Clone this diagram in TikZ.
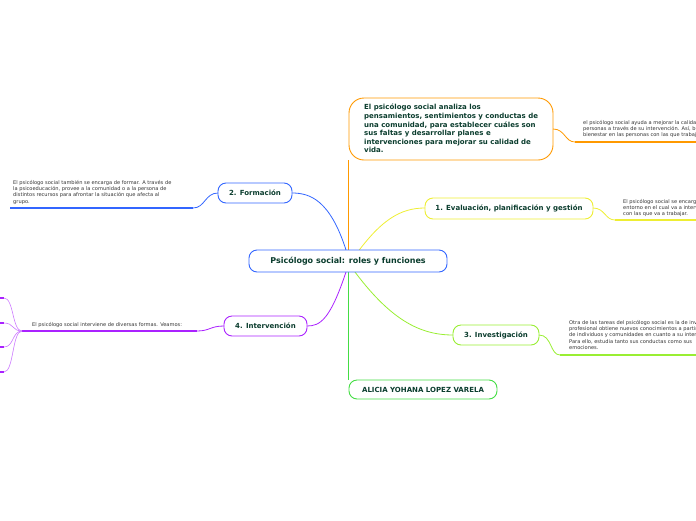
\documentclass[tikz,border=0pt]{standalone}
\usepackage{fontspec}
\setmainfont{DejaVu Sans}
\begin{document}
\begin{tikzpicture}[x=1pt,y=-1pt,
 box/.style={draw=#1,line width=0.9pt,rounded corners=8pt,fill=white,text=txt,font=\fontsize{7}{8.5}\selectfont\bfseries,inner sep=0pt},
 leaf/.style={font=\fontsize{5.1}{6.3}\selectfont,text=black!80,align=left,anchor=north west,inner sep=0pt},
 ln/.style={draw=#1,line width=0.8pt},
 ul/.style={draw=#1,line width=1.6pt}]
\definecolor{txt}{HTML}{0B3D2E}
\definecolor{co}{HTML}{FF9900}\definecolor{cb}{HTML}{3366FF}\definecolor{cy}{HTML}{EEEE33}
\definecolor{cp}{HTML}{AA22FF}\definecolor{cl}{HTML}{99EE33}\definecolor{cg}{HTML}{44DD44}
\useasboundingbox (0,0) rectangle (696,520);
\clip (0,0) rectangle (696,520);
% trunk lines
\draw[ln=co] (348,250) -- (348,160);
\draw[ln=cg] (348,272) -- (348,380);
\draw[ln=cb] (346,250) .. controls (330,200) and (310,193) .. (292,193);
\draw[ln=cy] (352,260) .. controls (380,220) and (400,208) .. (425,208);
\draw[ln=cp] (346,272) .. controls (330,320) and (320,326) .. (307,326);
\draw[ln=cl] (352,268) .. controls (390,320) and (420,335) .. (453,335);
% nodes
\node[box=co,minimum width=204pt,minimum height=62pt,rounded corners=15pt] (top) at (451,129) {};
\node[font=\fontsize{7}{8.6}\selectfont\bfseries,text=txt,align=left,anchor=north west,inner sep=0pt] (toptxt) at (364,104) {El psicólogo social analiza los\\pensamientos, sentimientos y conductas de\\una comunidad, para establecer cuáles son\\sus faltas y desarrollar planes e\\intervenciones para mejorar su calidad de\\vida.};
\node[box=cb,minimum width=198pt,minimum height=22pt] (m) at (348,261) {\fontsize{8}{9}\selectfont Psicólogo social: roles y funciones};
\node[box=cb,minimum width=74pt,minimum height=20pt] (f) at (255,193) {2. Formación};
\node[box=cy,minimum width=168pt,minimum height=21pt] (e) at (509,208.5) {1. Evaluación, planificación y gestión};
\node[box=cp,minimum width=83pt,minimum height=20pt] (i) at (265.5,326) {4. Intervención};
\node[box=cl,minimum width=86pt,minimum height=20pt] (v) at (496,335) {3. Investigación};
\node[box=cg,minimum width=148pt,minimum height=19pt] (a) at (423,389.5) {ALICIA YOHANA LOPEZ VARELA};
% leaves
\node[leaf] (l1) at (583,120) {el psicólogo social ayuda a mejorar la calidad de vida de las\\personas a través de su intervención. Así, busca generar\\bienestar en las personas con las que trabaja.};
\draw[ln=co] (553,129) .. controls (565,129) and (565,142) .. (575,142);
\draw[ul=co] (575,142) -- (696,142);
\node[leaf] (l2) at (623,199) {El psicólogo social se encarga de evaluar el\\entorno en el cual va a intervenir y a las personas\\con las que va a trabajar.};
\draw[ln=cy] (593,208) .. controls (605,208) and (605,220) .. (615,220);
\draw[ul=cy] (615,220) -- (696,220);
\node[leaf] (l3) at (569,320) {Otra de las tareas del psicólogo social es la de investigar. Este\\profesional obtiene nuevos conocimientos a partir del estudio\\de individuos y comunidades en cuanto a su interacción.\\Para ello, estudia tanto sus conductas como sus\\emociones.};
\draw[ln=cl] (539,335) .. controls (552,335) and (550,355) .. (560,355);
\draw[ul=cl] (560,355) -- (696,355);
\node[leaf] (l4) at (13,180) {El psicólogo social también se encarga de formar. A través de\\la psicoeducación, provee a la comunidad o a la persona de\\distintos recursos para afrontar la situación que afecta al\\grupo.};
\draw[ln=cb] (218,193) .. controls (205,193) and (205,208) .. (193,208);
\draw[ul=cb] (193,208) -- (10,208);
\node[leaf] (l5) at (32,322) {El psicólogo social interviene de diversas formas. Veamos:};
\draw[ln=cp] (224,326) .. controls (210,326) and (210,331) .. (197,331);
\draw[ul=cp] (197,331) -- (22,331);
\foreach \yy in {298,323,347,372}{
 \draw[draw=cp!60,line width=0.6pt] (22,331) .. controls (12,331) and (14,\yy) .. (4,\yy);
 \draw[ul=cp] (4,\yy) -- (0,\yy);}
\end{tikzpicture}
\end{document}
